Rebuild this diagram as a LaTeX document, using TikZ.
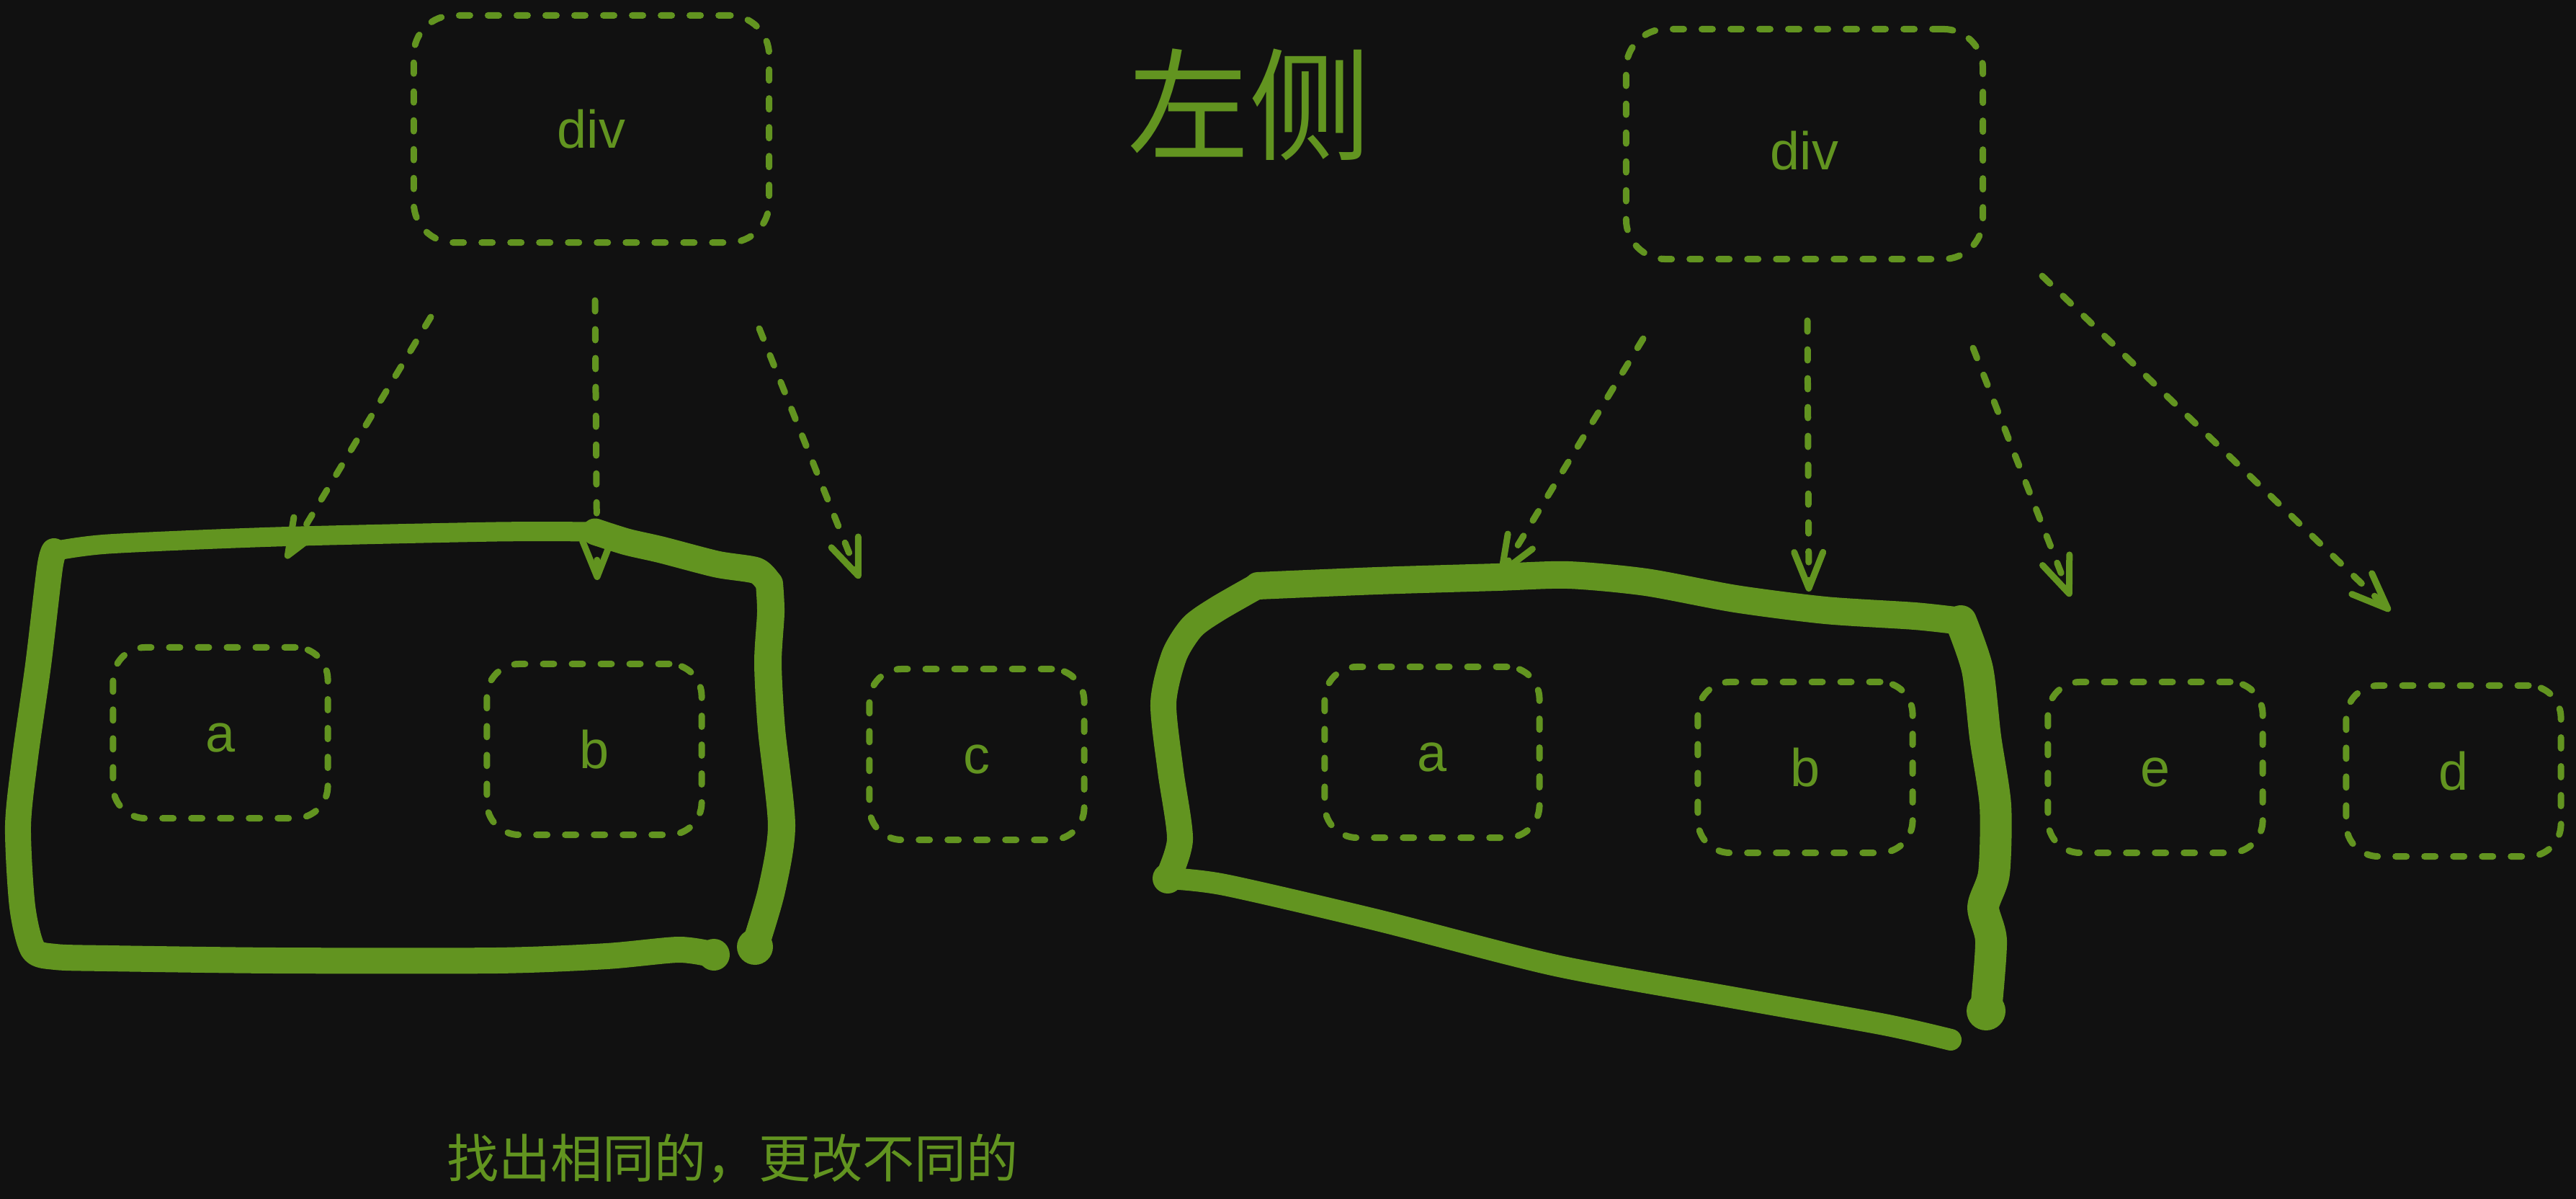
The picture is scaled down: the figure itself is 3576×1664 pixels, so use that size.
\documentclass[tikz,border=0pt]{standalone}
\usepackage{fontspec}
\setmainfont{Liberation Sans}
\newfontfamily\cjk{Noto Sans CJK SC}
\usetikzlibrary{arrows.meta}
\definecolor{bg}{RGB}{17,17,17}
\definecolor{gr}{RGB}{98,148,32}
\begin{document}
\begin{tikzpicture}[x=0.01cm,y=-0.01cm,
  dashline/.style={draw=gr, line width=0.09cm, dash pattern=on 0.15cm off 0.25cm, line cap=round},
  lbl/.style={text=gr, font=\fontsize{21}{25}\selectfont, text height=0.62cm, text depth=0.1cm},
  divbox/.style={dashline, lbl, rounded corners=0.55cm, inner sep=0pt, minimum width=4.93cm, minimum height=3.15cm},
  leaf/.style={dashline, lbl, rounded corners=0.45cm, inner sep=0pt, minimum width=2.98cm, minimum height=2.37cm},
  arr/.style={dashline, -{Straight Barb[length=0.5cm,width=0.4cm,round]}},
  hl/.style={draw=gr, line width=0.3cm, line cap=round, line join=round},
  blob/.style={fill=gr}]
\useasboundingbox (0,0) rectangle (3576,1664);
\fill[bg] (0,0) rectangle (3576,1664);

% titles
\node[text=gr, font=\cjk\fontsize{48}{56}\selectfont, inner sep=0pt] (title) at (1734,145) {左侧};
\node[text=gr, font=\cjk\fontsize{20.5}{24}\selectfont, inner sep=0pt] (note) at (1017,1608) {找出相同的，更改不同的};

% left group
\node[divbox] (ldiv) at (821,179) {div};
\node[leaf] (la) at (306,1017) {a};
\node[leaf] (lb) at (825,1040) {b};
\node[leaf] (lc) at (1356,1047) {c};

% right group
\node[divbox, minimum width=4.95cm, minimum height=3.19cm, text height=0.8cm] (rdiv) at (2505,200) {div};
\node[leaf] (ra) at (1988,1044) {a};
\node[leaf] (rb) at (2506,1065) {b};
\node[leaf] (re) at (2992,1065) {e};
\node[leaf] (rd) at (3406,1070) {d};

% arrow end points
\coordinate (l1s) at (598,440);  \coordinate (l1e) at (397,775);
\coordinate (l2s) at (826,417);  \coordinate (l2e) at (829,805);
\coordinate (l3s) at (1054,456); \coordinate (l3e) at (1193,803);
\coordinate (r1s) at (2281,470); \coordinate (r1e) at (2082,798);
\coordinate (r2s) at (2509,445); \coordinate (r2e) at (2511,821);
\coordinate (r3s) at (2739,483); \coordinate (r3e) at (2874,828);
\coordinate (r4s) at (2835,383); \coordinate (r4e) at (3318,848);

\draw[arr] (l1s) -- (l1e);
\draw[arr] (l2s) -- (l2e);
\draw[arr] (l3s) -- (l3e);
\draw[arr] (r1s) -- (r1e);
\draw[arr] (r2s) -- (r2e);
\draw[arr] (r3s) -- (r3e);
\draw[arr] (r4s) -- (r4e);

% hand-drawn highlight, left
\draw[hl, line width=0.36cm] plot[smooth, tension=0.45] coordinates {
  (991,1325) (942,1318) (842,1327) (689,1333) (383,1333) (150,1330) (77,1328)
  (46,1318) (31,1258) (25,1146) (35,1050) (53,923) (69,789) (75,765)};
\draw[hl, line width=0.27cm] plot[smooth, tension=0.45] coordinates {
  (75,765) (150,755) (383,745) (689,738) (826,738)};
\draw[hl, line width=0.37cm] plot[smooth, tension=0.45] coordinates {
  (826,738) (870,752) (918,763) (995,783) (1050,792) (1068,810)};
\draw[hl, line width=0.38cm] plot[smooth, tension=0.45] coordinates {
  (1068,810) (1070,850) (1066,920) (1071,1012) (1085,1146) (1071,1236) (1048,1314)};
\fill[blob] (991,1325) circle (0.22cm);
\fill[blob] (1048,1314) circle (0.25cm);

% hand-drawn highlight, right
\draw[hl, line width=0.36cm] plot[smooth, tension=0.45] coordinates {
  (1621,1219) (1638,1165) (1625,1070) (1615,976) (1630,910) (1655,870) (1690,845) (1746,813)};
\draw[hl, line width=0.38cm] plot[smooth, tension=0.45] coordinates {
  (1746,813) (1912,806) (2078,801) (2177,798) (2285,808) (2409,831) (2534,847) (2658,855) (2722,862)};
\draw[hl, line width=0.44cm] plot[smooth, tension=0.45] coordinates {
  (2722,862) (2745,929) (2756,1023) (2770,1118) (2768,1212) (2753,1259) (2764,1306) (2757,1401)};
\draw[hl, line width=0.3cm] plot[smooth, tension=0.45] coordinates {
  (1621,1219) (1700,1228) (1912,1277) (2160,1340) (2409,1385) (2616,1422) (2708,1443)};
\fill[blob] (1621,1219) circle (0.21cm);
\fill[blob] (2757,1403) circle (0.27cm);
\end{tikzpicture}
\end{document}
